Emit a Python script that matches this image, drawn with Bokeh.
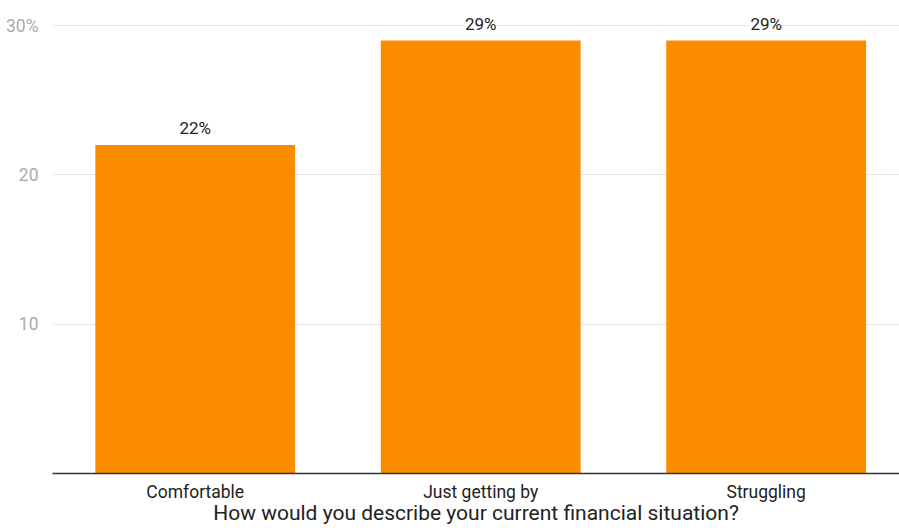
from bokeh.plotting import figure
from bokeh.models import Range1d, FixedTicker, ColumnDataSource, LabelSet
from bokeh.core.properties import value
from bokeh.embed import file_html
from bokeh.resources import INLINE

categories = ["Comfortable", "Just getting by", "Struggling"]
values = [22, 29, 29]
value_labels = ["22%", "29%", "29%"]
y_ticks = [10, 20, 30]
y_tick_labels = {10: "10", 20: "20", 30: "30%"}
x_title = "How would you describe your current financial situation?"

xs = list(range(len(categories)))
src = ColumnDataSource(dict(x=xs, top=values, label=value_labels))

p = figure(width=899, height=528, output_backend="svg", toolbar_location=None,
           x_range=Range1d(-0.5, 2.467), y_range=Range1d(0, 31.68),
           min_border_left=52, min_border_right=0, min_border_top=0, min_border_bottom=55)
p.outline_line_color = None
p.background_fill_color = "white"

p.vbar(x="x", top="top", width=0.70, source=src, color="#fb8c00", line_color=None)

labels = LabelSet(x="x", y="top", text="label", source=src, text_align="center",
                  text_baseline="bottom", y_offset=7, text_font=value("Roboto"),
                  text_font_size="17px", text_color="#222222",
                  background_fill_color="white")
p.add_layout(labels)

p.xaxis.ticker = FixedTicker(ticks=xs)
p.xaxis.major_label_overrides = {i: c for i, c in zip(xs, categories)}
p.xaxis.major_tick_line_color = None
p.xaxis.minor_tick_line_color = None
p.xaxis.axis_line_color = "#333333"
p.xaxis.axis_line_width = 1.5
p.xaxis.major_label_text_font = "Roboto"
p.xaxis.major_label_text_font_size = "17.5px"
p.xaxis.major_label_text_color = "#222222"
p.xaxis.major_label_standoff = 2
p.xaxis.axis_label = x_title
p.xaxis.axis_label_text_font = "Roboto"
p.xaxis.axis_label_text_font_style = "normal"
p.xaxis.axis_label_text_font_size = "21px"
p.xaxis.axis_label_text_color = "#222222"
p.xaxis.axis_label_standoff = -4

p.yaxis.ticker = FixedTicker(ticks=y_ticks)
p.yaxis.major_label_overrides = y_tick_labels
p.yaxis.axis_line_color = None
p.yaxis.major_tick_line_color = None
p.yaxis.minor_tick_line_color = None
p.yaxis.major_label_text_font = "Roboto"
p.yaxis.major_label_text_font_size = "17.5px"
p.yaxis.major_label_text_color = "#aaaaaa"
p.yaxis.major_label_standoff = 8

p.xgrid.grid_line_color = None
p.ygrid.grid_line_color = "#e6e6e6"
p.ygrid.ticker = FixedTicker(ticks=y_ticks)

open("out.html", "w").write(file_html(p, INLINE))
